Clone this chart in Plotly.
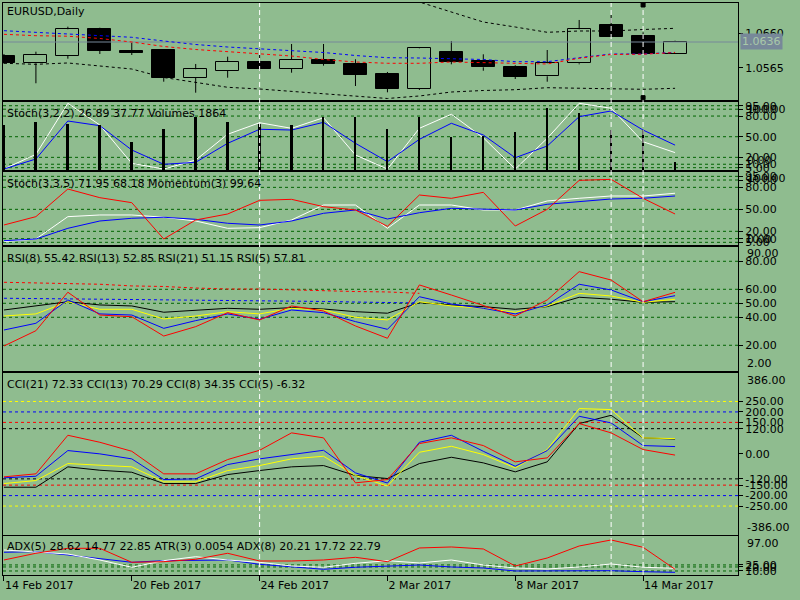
import plotly.graph_objects as go

# EURUSD daily bars, 14 Feb - 15 Mar 2017
dates = ["14 Feb 2017", "15 Feb 2017", "16 Feb 2017", "17 Feb 2017", "20 Feb 2017", "21 Feb 2017",
         "22 Feb 2017", "23 Feb 2017", "24 Feb 2017", "27 Feb 2017", "28 Feb 2017", "1 Mar 2017",
         "2 Mar 2017", "3 Mar 2017", "6 Mar 2017", "7 Mar 2017", "8 Mar 2017", "9 Mar 2017",
         "10 Mar 2017", "13 Mar 2017", "14 Mar 2017", "15 Mar 2017"]
idx = list(range(len(dates)))

open_ = [1.05973, 1.05772, 1.05982, 1.06719, 1.06112, 1.06139, 1.05374, 1.05567, 1.05808, 1.05623, 1.05863,
         1.05753, 1.05476, 1.05070, 1.06076, 1.05844, 1.05670, 1.05413, 1.05772, 1.06830, 1.06526, 1.06020]
high = [1.06029, 1.06092, 1.06783, 1.06755, 1.06341, 1.06153, 1.05753, 1.05954, 1.06159, 1.06305, 1.06305,
        1.05882, 1.05532, 1.06214, 1.06388, 1.06020, 1.05717, 1.06139, 1.06968, 1.07106, 1.06628, 1.06396]
low = [1.05753, 1.05220, 1.05899, 1.06029, 1.06001, 1.05264, 1.04960, 1.05374, 1.05559, 1.05512, 1.05706,
       1.05145, 1.04971, 1.05035, 1.05744, 1.05567, 1.05338, 1.05264, 1.05744, 1.06507, 1.06020, 1.06020]
close = [1.05772, 1.06001, 1.06711, 1.06112, 1.06065, 1.05374, 1.05606, 1.05808, 1.05614, 1.05863, 1.05753,
         1.05449, 1.05070, 1.06186, 1.05816, 1.05661, 1.05402, 1.05772, 1.06711, 1.06507, 1.06020, 1.06360]
bid = 1.0636

ma_blue = [1.06672, 1.06628, 1.06589, 1.06553, 1.06490, 1.06388, 1.06291, 1.06222, 1.06167, 1.06131, 1.06070,
           1.05987, 1.05927, 1.05918, 1.05904, 1.05877, 1.05816, 1.05816, 1.05927, 1.06029, 1.06029, 1.06076]
ma_red = [1.06573, 1.06534, 1.06520, 1.06457, 1.06360, 1.06236, 1.06153, 1.06098, 1.06043, 1.05973, 1.05877,
          1.05808, 1.05772, 1.05772, 1.05808, 1.05794, 1.05766, 1.05753, 1.05910, 1.06015, 1.06023, 1.06070]
band_up = [1.08349, 1.08376, 1.08349, 1.08321, 1.08266, 1.08210, 1.08128, 1.08072, 1.08017, 1.07962, 1.07907,
           1.07824, 1.07686, 1.07465, 1.07189, 1.06912, 1.06774, 1.06628, 1.06664, 1.06664, 1.06705, 1.06738]
band_dn = [1.05772, 1.05744, 1.05781, 1.05706, 1.05614, 1.05380, 1.05242, 1.05109, 1.05062, 1.04993, 1.04938,
           1.04869, 1.04800, 1.04869, 1.04979, 1.05021, 1.05043, 1.05098, 1.05081, 1.05081, 1.05054, 1.05081]

stoch1_main = [3.1, 24.4, 98.5, 67.0, 11.3, 3.0, 16.1, 53.5, 70.3, 62.2, 77.6, 23.4, 3.0, 62.2, 82.6, 48.5,
               3.0, 47.7, 98.5, 91.3, 42.7, 26.89]
stoch1_sig = [3.1, 17.6, 72.8, 66.0, 30.7, 9.9, 12.8, 40.4, 60.8, 59.7, 70.9, 40.4, 13.7, 46.2, 69.5, 52.5,
              19.5, 36.5, 79.1, 87.4, 59.7, 37.77]
volumes = [10100, 10850, 10330, 10110, 6220, 9210, 11970, 10710, 10260, 10110, 11970, 11840, 9210, 11970,
           7480, 7700, 8470, 13860, 12730, 8980, 8980, 1864]

stoch2_main = [5.9, 9.5, 40.0, 42.3, 42.3, 39.2, 34.1, 24.1, 25.0, 35.5, 55.9, 55.9, 24.1, 55.9, 55.9, 49.1,
               49.1, 61.4, 65.1, 68.2, 68.2, 71.95]
stoch2_sig = [7.2, 9.5, 24.1, 34.1, 37.8, 39.2, 36.4, 31.0, 28.6, 34.1, 44.6, 49.1, 36.8, 45.4, 51.4, 50.1,
              49.1, 56.9, 60.4, 64.1, 65.1, 68.18]
momentum = [99.31, 99.56, 100.39, 100.13, 99.98, 98.89, 99.46, 99.64, 100.05, 100.08, 99.86, 99.76, 99.27,
            100.21, 100.11, 100.29, 99.28, 99.78, 100.65, 100.68, 100.11, 99.64]

rsi5 = [19.5, 30.4, 57.9, 41.6, 40.4, 26.6, 33.3, 43.3, 38.1, 48.1, 44.5, 33.8, 25.0, 63.1, 55.9, 48.3, 40.9,
        52.4, 72.6, 66.6, 51.1, 57.81]
rsi8 = [30.9, 35.7, 52.4, 42.4, 41.6, 32.1, 37.6, 42.4, 38.6, 45.2, 43.3, 36.9, 31.4, 54.7, 49.5, 46.4, 42.4,
        48.8, 63.6, 59.5, 51.1, 55.42]
rsi13 = [40.9, 42.4, 51.1, 45.7, 45.7, 38.8, 40.9, 44.0, 42.4, 46.4, 45.2, 40.0, 38.1, 51.1, 48.1, 46.4, 43.6,
         48.1, 57.1, 55.2, 50.7, 52.85]
rsi21 = [45.2, 48.1, 51.1, 48.8, 48.1, 43.6, 45.2, 46.4, 45.7, 46.9, 45.9, 44.0, 42.9, 50.4, 48.8, 47.6, 45.7,
         47.6, 54.3, 52.9, 50.7, 51.15]
rsi_red_dash = [65.0, 64.5, 64.1, 63.6, 62.4, 62.0, 60.9, 60.2, 60.2, 59.5, 58.8, 58.4, 58.1, 57.1,
                None, None, None, None, None, None, None, None]
rsi_blue_dash = [53.6, 53.4, 53.3, 53.1, 52.9, 52.8, 52.6, 52.4, 52.0, 51.6, 51.3, 50.9, 50.6, 50.2,
                 None, None, None, None, None, None, None, None]

cci21 = [-142.4, -128.0, -46.8, -54.9, -62.6, -134.3, -134.3, -80.3, -56.4, -24.4, -11.9, -104.2, -154.3, 7.2,
         35.8, -3.8, -67.4, 20.1, 216.0, 211.2, 76.0, 72.33]
cci13 = [-160.0, -160.0, -62.6, -78.8, -88.4, -142.4, -142.4, -99.4, -80.3, -62.6, -56.4, -104.2, -118.5, -46.8,
         -16.7, -43.5, -86.5, -38.7, 144.3, 183.9, 76.0, 70.29]
cci8 = [-115.1, -107.5, 15.3, -0.5, -24.4, -123.3, -119.9, -51.6, -24.4, -3.8, 16.7, -91.3, -140.0, 54.9, 88.4,
        11.9, -59.7, 15.3, 179.2, 147.6, 39.2, 34.35]
cci5 = [-110.4, -96.0, 88.4, 54.9, 11.9, -96.0, -96.0, -27.7, 16.7, 99.9, 76.0, -139.0, -123.3, 48.7, 76.0, 39.2,
        -38.7, -19.6, 144.3, 99.9, 20.1, -6.32]

adx_red = [37.3, 54.0, 66.4, 66.4, 31.6, 33.1, 39.1, 54.0, 34.8, 34.8, 37.3, 44.0, 33.1, 67.2, 69.7, 64.7,
           22.4, 42.3, 72.1, 87.1, 68.9, 14.2]
adx_white = [62.2, 58.0, 52.2, 37.3, 19.2, 35.6, 45.5, 37.3, 31.6, 22.4, 19.2, 29.1, 35.6, 29.9, 37.3, 24.9,
             17.4, 14.9, 19.9, 27.4, 19.2, 16.7]
adx_blue = [56.5, 58.0, 49.8, 41.5, 31.6, 35.6, 37.3, 37.3, 26.6, 20.6, 14.2, 19.2, 22.4, 24.9, 19.9, 17.4,
            10.0, 10.0, 10.0, 10.7, 8.2, 6.7]

BG = "#8fbc8f"
GRID = "#006400"
FONT = "DejaVu Sans"

fig = go.Figure()

# ---- main panel: candles
body_base = [min(o, c) for o, c in zip(open_, close)]
body_h = [abs(c - o) for o, c in zip(open_, close)]
body_col = ["black" if c < o else BG for o, c in zip(open_, close)]
fig.add_trace(go.Bar(x=idx, y=body_h, base=body_base, width=0.72, marker=dict(color=body_col, line=dict(color="black", width=1)),
                     xaxis="x", yaxis="y"))
wx, wy = [], []
for i in idx:
    wx += [i, i, None, i, i, None]
    wy += [high[i], max(open_[i], close[i]), None, min(open_[i], close[i]), low[i], None]
fig.add_trace(go.Scatter(x=wx, y=wy, mode="lines", line=dict(color="black", width=1), xaxis="x", yaxis="y"))
fig.add_trace(go.Scatter(x=[-1, 24], y=[bid, bid], mode="lines", line=dict(color="#778899", width=1), xaxis="x", yaxis="y"))
for s, col in [(band_up, "black"), (band_dn, "black"), (ma_blue, "blue"), (ma_red, "red")]:
    fig.add_trace(go.Scatter(x=idx, y=s, mode="lines", line=dict(color=col, width=1, dash="3px,3px"), xaxis="x", yaxis="y"))

# ---- stoch(3,2,2) + volumes
fig.add_trace(go.Bar(x=idx, y=volumes, width=0.06, marker=dict(color="black", line=dict(width=0)), xaxis="x2", yaxis="y7"))
fig.add_trace(go.Scatter(x=idx, y=stoch1_main, mode="lines", line=dict(color="white", width=1), xaxis="x2", yaxis="y2"))
fig.add_trace(go.Scatter(x=idx, y=stoch1_sig, mode="lines", line=dict(color="blue", width=1), xaxis="x2", yaxis="y2"))

# ---- stoch(3,3,5) + momentum
fig.add_trace(go.Scatter(x=idx, y=stoch2_main, mode="lines", line=dict(color="white", width=1), xaxis="x3", yaxis="y3"))
fig.add_trace(go.Scatter(x=idx, y=stoch2_sig, mode="lines", line=dict(color="blue", width=1), xaxis="x3", yaxis="y3"))
fig.add_trace(go.Scatter(x=idx, y=momentum, mode="lines", line=dict(color="red", width=1), xaxis="x3", yaxis="y8"))

# ---- RSI
fig.add_trace(go.Scatter(x=idx, y=rsi_red_dash, mode="lines", line=dict(color="red", width=1, dash="3px,3px"), xaxis="x4", yaxis="y4"))
fig.add_trace(go.Scatter(x=idx, y=rsi_blue_dash, mode="lines", line=dict(color="blue", width=1, dash="3px,3px"), xaxis="x4", yaxis="y4"))
for s, col in [(rsi21, "black"), (rsi13, "yellow"), (rsi8, "blue"), (rsi5, "red")]:
    fig.add_trace(go.Scatter(x=idx, y=s, mode="lines", line=dict(color=col, width=1), xaxis="x4", yaxis="y4"))

# ---- CCI
for s, col in [(cci13, "black"), (cci21, "yellow"), (cci8, "blue"), (cci5, "red")]:
    fig.add_trace(go.Scatter(x=idx, y=s, mode="lines", line=dict(color=col, width=1), xaxis="x5", yaxis="y5"))

# ---- ADX / ATR
for s, col in [(adx_blue, "blue"), (adx_white, "white"), (adx_red, "red")]:
    fig.add_trace(go.Scatter(x=idx, y=s, mode="lines", line=dict(color=col, width=1), xaxis="x6", yaxis="y6"))

doms = [[0.8304, 1.0], [0.7080, 0.8269], [0.5761, 0.7045], [0.3566, 0.5734], [0.0708, 0.3531], [0.0, 0.0682]]
xr = [-0.03, 22.97]
yranges = [[1.04758, 1.07437], [1.6, 100.4], [0.7, 100.9], [1.6, 90.2], [-386, 386], [0, 97]]

layout = dict(width=800, height=600, margin=dict(l=3, r=62, t=3, b=25, autoexpand=False),
              paper_bgcolor=BG, plot_bgcolor=BG, showlegend=False, hovermode=False,
              font=dict(family=FONT, size=11, color="black"), bargap=0)

stoch_lv = [95, 90, 80, 50, 20, 10, 5]
tick_sets = [
    ([1.0660, 1.0565], ["1.0660", "1.0565"]),
    (stoch_lv, ["%.2f" % v for v in stoch_lv]),
    (stoch_lv, ["%.2f" % v for v in stoch_lv]),
    ([80, 60, 50, 40, 20], ["80.00", "60.00", "50.00", "40.00", "20.00"]),
    ([250, 200, 150, 120, 0, -120, -150, -200, -250],
     ["250.00", "200.00", "150.00", "120.00", "0.00", "-120.00", "-150.00", "-200.00", "-250.00"]),
    ([10, 20, 25], ["10.00", "20.00", "25.00"]),
]

for n in range(1, 7):
    sx = "" if n == 1 else str(n)
    xa = dict(domain=[0, 1], anchor="y" + sx, range=xr, showline=True, mirror=True, linecolor="black",
              showgrid=False, zeroline=False, showticklabels=False, ticks="", automargin=False)
    if n > 1:
        xa["matches"] = "x"
    if n == 6:
        xa.update(showticklabels=True, ticks="outside", ticklen=5, tickcolor="black",
                  tickvals=idx[::4], ticktext=dates[::4], ticklabelposition="outside right",
                  tickfont=dict(size=11))
    layout["xaxis" + sx] = xa
    tv, tt = tick_sets[n - 1]
    layout["yaxis" + sx] = dict(domain=doms[n - 1], anchor="x" + sx, side="right", range=yranges[n - 1],
                                showline=True, mirror=True, linecolor="black", showgrid=False, zeroline=False,
                                ticks="outside", ticklen=4, tickcolor="black", tickvals=tv, ticktext=tt,
                                tickfont=dict(size=11), automargin=False)

layout["yaxis7"] = dict(overlaying="y2", anchor="x2", range=[0, 15270], visible=False)
layout["yaxis8"] = dict(overlaying="y3", anchor="x3", range=[98.695, 100.9], visible=False)

shapes = []

def hline(n, v, col):
    sx = "" if n == 1 else str(n)
    shapes.append(dict(type="line", xref="x" + sx + " domain", x0=0, x1=1, yref="y" + sx, y0=v, y1=v,
                       line=dict(color=col, width=1, dash="3px,3px"), layer="below"))

for v in stoch_lv:
    hline(2, v, GRID)
    hline(3, v, GRID)
for v in [80, 60, 50, 40, 20]:
    hline(4, v, GRID)
for v, col in [(250, "yellow"), (200, "blue"), (150, "red"), (120, "black")]:
    hline(5, v, col)
    hline(5, -v, col)
for v in [10, 20, 25]:
    hline(6, v, GRID)

for xv in [8, 19, 20]:
    shapes.append(dict(type="line", xref="x", x0=xv, x1=xv, yref="paper", y0=0, y1=1,
                       line=dict(color="white", width=1, dash="5px,3px")))
for yv in [0.9965, 0.8345]:
    shapes.append(dict(type="rect", xref="x", xsizemode="pixel", xanchor=20, x0=-2, x1=2,
                       yref="paper", ysizemode="pixel", yanchor=yv, y0=-2, y1=2,
                       fillcolor="black", line=dict(color="black", width=1)))
layout["shapes"] = shapes

titles = [("EURUSD,Daily", 0.9848),
          ("Stoch(3,2,2) 26.89 37.77 Volumes 1864", 0.8072),
          ("Stoch(3,3,5) 71.95 68.18 Momentum(3) 99.64", 0.6848),
          ("RSI(8) 55.42 RSI(13) 52.85 RSI(21) 51.15 RSI(5) 57.81", 0.5537),
          ("CCI(21) 72.33 CCI(13) 70.29 CCI(8) 34.35 CCI(5) -6.32", 0.3334),
          ("ADX(5) 28.62 14.77 22.85 ATR(3) 0.0054 ADX(8) 20.21 17.72 22.79", 0.0495)]
ann = []
for t, yv in titles:
    ann.append(dict(text=t, xref="paper", yref="paper", x=0.003, y=yv, xanchor="left", yanchor="middle",
                    showarrow=False, font=dict(size=11, color="black")))

# min / max scale labels of the sub windows
for t, yv in [("100.00", 0.8130), ("0.00", 0.7255), ("100.00", 0.6940), ("0.00", 0.5871),
              ("90.00", 0.5629), ("2.00", 0.3706), ("386.00", 0.3392), ("-386.00", 0.0834), ("97.00", 0.0554)]:
    ann.append(dict(text=t, xref="paper", yref="paper", x=1.0095, y=yv, xanchor="left", yanchor="middle",
                    showarrow=False, font=dict(size=11, color="black")))

ann.append(dict(text="1.0636", xref="paper", yref="paper", x=1.003, y=0.9327, xanchor="left", yanchor="middle",
                showarrow=False, bgcolor="#778899", borderpad=1, font=dict(size=11, color="#a9c9a9")))
layout["annotations"] = ann

fig.update_layout(layout)
fig.write_html("out.html", config={"displayModeBar": False}, post_script="document.body.style.margin='0';")
